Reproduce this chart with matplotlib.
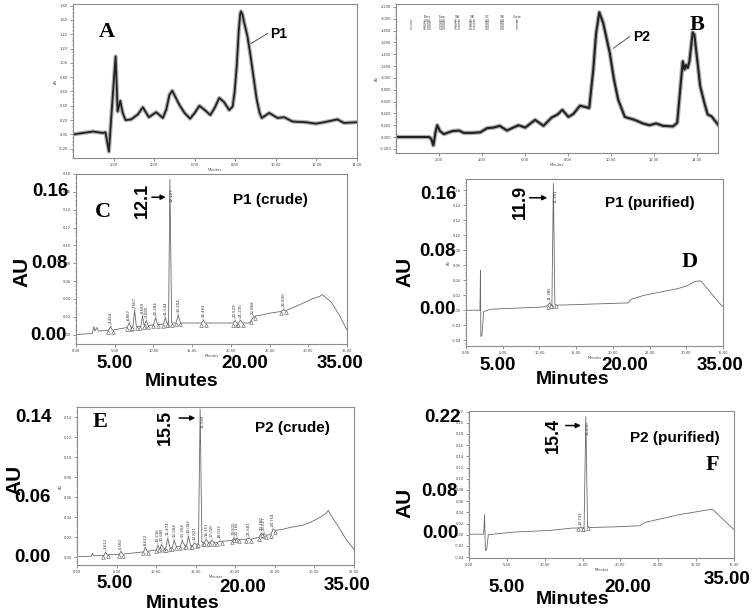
import numpy as np
import matplotlib
matplotlib.use("Agg")
import matplotlib.pyplot as plt
from matplotlib.ticker import MultipleLocator, FormatStrFormatter

W, H = 756, 614

# ---------------- data ----------------
# Panel A : preparative chromatogram (P1)
a_time = [0.0, 0.74, 0.98, 1.48, 1.6, 1.77, 1.95, 2.10, 2.2, 2.33, 2.45, 2.59, 2.87, 3.2, 3.44,
          3.74, 4.1, 4.43, 4.6, 4.75, 4.89, 5.0, 5.25, 5.5, 5.77, 6.0, 6.23, 6.5, 6.77, 7.0, 7.21,
          7.45, 7.70, 7.87, 7.97, 8.07, 8.17, 8.24, 8.28, 8.35, 8.45, 8.6, 8.75, 8.9, 9.05, 9.2,
          9.31, 9.67, 10.08, 10.41, 10.82, 11.48, 11.97, 12.38, 13.03, 13.36, 14.0]
a_val = [0.0, 0.03, 0.04, 0.02, 0.03, -0.24, 0.5, 1.09, 0.32, 0.47, 0.3, 0.20, 0.21, 0.28, 0.38,
         0.24, 0.31, 0.23, 0.35, 0.55, 0.61, 0.55, 0.41, 0.30, 0.22, 0.30, 0.40, 0.34, 0.27, 0.38, 0.51,
         0.45, 0.34, 0.39, 0.60, 0.95, 1.45, 1.68, 1.72, 1.68, 1.55, 1.37, 1.10, 0.80, 0.50, 0.30,
         0.23, 0.30, 0.23, 0.24, 0.18, 0.17, 0.15, 0.17, 0.21, 0.16, 0.17]

# Panel B : preparative chromatogram (P2)
b_time = [0.0, 1.54, 1.64, 1.74, 1.85, 1.92, 2.05, 2.23, 2.62, 2.93, 3.16, 3.55, 3.93, 4.24, 4.55,
          4.83, 5.17, 5.40, 5.71, 6.02, 6.48, 6.87, 7.25, 7.52, 7.75, 8.03, 8.26, 8.57, 8.80, 9.0,
          9.19, 9.32, 9.47, 9.65, 9.96, 10.15, 10.35, 10.66, 11.12, 11.5, 11.81, 12.12, 12.43, 12.9,
          13.1, 13.28, 13.36, 13.44, 13.51, 13.59, 13.67, 13.82, 13.9, 14.06, 14.17, 14.37, 14.52,
          14.7, 15.0]
b_val = [0.0, 0.0, -0.03, -0.14, 0.10, 0.20, 0.10, 0.05, 0.10, 0.11, 0.07, 0.07, 0.08, 0.15, 0.16,
         0.19, 0.11, 0.15, 0.20, 0.16, 0.29, 0.19, 0.33, 0.38, 0.46, 0.34, 0.39, 0.53, 0.51, 0.49,
         1.14, 1.75, 2.11, 1.93, 1.42, 0.98, 0.63, 0.34, 0.29, 0.23, 0.20, 0.23, 0.19, 0.18,
         0.24, 0.97, 1.28, 1.14, 1.22, 1.17, 1.28, 1.77, 1.73, 1.22, 0.86, 0.57, 0.38,
         0.35, 0.21]

# Gradient table printed in panel B
b_table_head = ["Time", "Flow", "%A", "%B", "%C", "%D", "Curve"]
b_table_rows = [["0.00", "5.00", "75.0", "25.0", "0.0", "0.0", "6"],
                ["11.00", "5.00", "71.0", "29.0", "0.0", "0.0", "6"],
                ["14.00", "5.00", "40.0", "60.0", "0.0", "0.0", "6"],
                ["16.00", "5.00", "75.0", "25.0", "0.0", "0.0", "6"]]

# Panel C : P1 crude (analytical HPLC)
c_time = [0.0, 1.5, 2.1, 2.3, 2.45, 2.7, 2.9, 4.2, 4.46, 4.7, 6.6, 6.87, 7.1, 7.35, 7.57, 7.8,
          8.35, 8.59, 8.8, 9.08, 9.35, 10.0, 10.28, 10.55, 11.3, 11.54, 11.8, 11.95, 12.13, 12.35,
          12.9, 13.2, 13.5, 16.2, 16.46, 16.7, 20.3, 20.53, 20.8, 21.0, 21.24, 21.5, 22.4, 22.87,
          23.2, 24.0, 25.0, 26.5, 26.8, 27.1, 29.0, 30.5, 31.5, 31.8, 32.2, 33.0, 34.0, 35.0]
c_val = [0.0, 0.001, 0.001, 0.009, 0.004, 0.008, 0.004, 0.005, 0.009, 0.005, 0.008, 0.013, 0.008,
         0.009, 0.027, 0.009, 0.009, 0.021, 0.010, 0.016, 0.010, 0.011, 0.019, 0.011, 0.012, 0.019,
         0.012, 0.013, 0.174, 0.013, 0.013, 0.022, 0.013, 0.013, 0.016, 0.013, 0.013, 0.016, 0.013,
         0.013, 0.016, 0.013, 0.013, 0.019, 0.021, 0.022, 0.024, 0.026, 0.028, 0.027, 0.034, 0.040,
         0.043, 0.045, 0.042, 0.036, 0.022, 0.005]
c_peaks = [4.464, 6.867, 7.567, 8.589, 9.080, 10.284, 11.544, 12.127, 13.204, 16.463, 20.529,
           21.235, 22.868, 26.800]

# Panel D : P1 purified
d_time = [0.0, 1.90, 1.97, 2.02, 2.17, 2.4, 3.3, 10.77, 11.0, 11.2, 11.385, 11.55, 11.7, 11.9,
          12.1, 12.35, 22.1, 22.5, 24.3, 28.9, 30.2, 31.1, 31.6, 32.0, 32.5, 34.75, 35.0]
d_val = [0.0, 0.0, 0.053, -0.035, -0.034, -0.002, 0.0013, 0.0045, 0.006, 0.007, 0.0098, 0.007,
         0.008, 0.169, 0.008, 0.0067, 0.0098, 0.0147, 0.020, 0.029, 0.033, 0.038, 0.039, 0.039,
         0.033, 0.0067, 0.005]
d_peaks = [11.385, 11.901]

# Panel E : P2 crude
e_time = [0.0, 1.8, 1.94, 2.1, 3.4, 3.61, 3.85, 5.3, 5.56, 5.8, 8.4, 8.63, 8.9, 10.0, 10.24, 10.45,
          10.69, 10.9, 11.2, 11.47, 11.75, 12.05, 12.28, 12.55, 13.05, 13.3, 13.6, 13.85, 14.08,
          14.35, 14.6, 14.82, 15.1, 15.35, 15.56, 15.78, 16.1, 16.31, 16.6, 16.8, 17.03, 17.3, 17.8,
          18.03, 18.3, 19.6, 19.82, 19.95, 20.17, 20.4, 21.4, 21.68, 21.95, 23.0, 23.28, 23.45,
          23.62, 23.9, 24.5, 24.75, 25.0, 26.0, 27.0, 28.5, 29.5, 30.5, 31.5, 31.75, 32.0, 33.0,
          34.0, 35.0]
e_val = [0.0007, 0.0012, 0.004, 0.0015, 0.002, 0.005, 0.0025, 0.003, 0.0058, 0.0032, 0.0055, 0.0096,
         0.006, 0.0075, 0.012, 0.008, 0.013, 0.009, 0.009, 0.019, 0.010, 0.010, 0.017, 0.011, 0.011,
         0.017, 0.012, 0.012, 0.021, 0.012, 0.012, 0.014, 0.013, 0.014, 0.148, 0.015, 0.015, 0.018,
         0.015, 0.015, 0.017, 0.015, 0.015, 0.016, 0.016, 0.017, 0.019, 0.018, 0.019, 0.018, 0.018,
         0.019, 0.018, 0.020, 0.024, 0.022, 0.024, 0.022, 0.023, 0.028, 0.027, 0.028, 0.030, 0.032,
         0.035, 0.039, 0.044, 0.047, 0.043, 0.031, 0.018, 0.008]
e_peaks = [3.612, 5.560, 8.633, 10.236, 10.685, 11.474, 12.284, 13.304, 14.083, 14.821, 15.560,
           16.313, 17.025, 18.032, 19.815, 20.166, 21.681, 23.280, 23.617, 24.754]

# Panel F : P2 purified
f_time = [0.0, 1.94, 2.06, 2.16, 2.33, 2.55, 5.8, 10.66, 13.7, 14.5, 14.733, 14.95, 15.2, 15.43,
          15.66, 16.08, 19.0, 22.55, 23.2, 27.8, 31.8, 32.2, 35.0]
f_val = [0.001, 0.001, 0.036, -0.028, -0.027, 0.0, 0.0047, 0.0077, 0.012, 0.012, 0.013, 0.012,
         0.013, 0.211, 0.014, 0.013, 0.014, 0.016, 0.022, 0.036, 0.045, 0.045, 0.009]
f_peaks = [14.733, 15.430]

# ---------------- figure ----------------
fig = plt.figure(figsize=(W / 100, H / 100), dpi=100)
fig.patch.set_facecolor("white")

SANS = "Liberation Sans"
SERIF = "Liberation Serif"
FRAME = "#8c8c8c"
TRACE = "#6a6a6a"


def px_axes(l, t, r, b):
    return fig.add_axes([l / W, 1 - b / H, (r - l) / W, (b - t) / H])


def ftext(x, y, s, size, rot=0, family=SANS, weight="bold"):
    fig.text(x / W, 1 - y / H, s, ha="center", va="center", rotation=rot,
             fontsize=size, family=family, weight=weight, color="black")


def style(ax, xmaj, xmin, ymaj, ymin, xfmt, yfmt, ylab="AU"):
    for s in ax.spines.values():
        s.set_color(FRAME)
        s.set_linewidth(0.8)
    ax.xaxis.set_major_locator(MultipleLocator(xmaj))
    ax.xaxis.set_minor_locator(MultipleLocator(xmin))
    ax.yaxis.set_major_locator(MultipleLocator(ymaj))
    ax.yaxis.set_minor_locator(MultipleLocator(ymin))
    ax.xaxis.set_major_formatter(FormatStrFormatter(xfmt))
    ax.yaxis.set_major_formatter(FormatStrFormatter(yfmt))
    ax.tick_params(which="major", length=2, width=0.4, labelsize=2.6, colors="#444444", pad=1.5)
    ax.tick_params(which="minor", length=1, width=0.3, colors="#666666")
    ax.set_xlabel("Minutes", fontsize=2.6, labelpad=0.5, color="#444444")
    ax.set_ylabel(ylab, fontsize=2.6, labelpad=0.5, color="#444444")


def peak_marks(ax, t, v, peaks, skip_main=None, off=0.002):
    t = np.asarray(t)
    v = np.asarray(v)
    for p in peaks:
        top = np.interp(p, t, v)
        main = skip_main is not None and abs(p - skip_main) < 1e-6
        w = 0.32 if main else 0.28
        bl = np.interp(p - w, t, v)
        br = np.interp(p + w, t, v)
        ax.plot([p - w, p + w], [bl - off * 0.6, br - off * 0.6], ls="none", marker="^",
                ms=2.6, mfc="white", mec="#555555", mew=0.4)
        if main:
            ax.text(p + 0.25, top * 0.96, f"{p:.3f}", rotation=90, fontsize=2.8,
                    ha="center", va="top", color="#333333")
        else:
            ax.plot([p, p], [top, top + off], color="#555555", lw=0.3)
            ax.text(p, top + off * 1.2, f"{p:.3f}", rotation=90, fontsize=2.8,
                    ha="center", va="bottom", color="#333333")


# ---- Panel A ----
axA = px_axes(73, 4, 357, 158)
axA.plot(a_time, a_val, color="#b0b0b0", lw=3.0, solid_joinstyle="round")
axA.plot(a_time, a_val, color="#222222", lw=1.3, solid_joinstyle="round")
axA.set_xlim(0, 14)
axA.set_ylim(-0.33, 1.823)
style(axA, 2, 0.4, 0.2, 0.05, "%.2f", "%.2f")
axA.set_xticks([2, 4, 6, 8, 10, 12, 14])
axA.plot([8.77, 9.59], [1.27, 1.41], color="#555555", lw=0.7)
axA.text(9.72, 1.40, "P1", fontsize=10, family=SANS, weight="bold", va="center")
axA.text(0.12, 0.82, "A", transform=axA.transAxes, fontsize=16, family=SERIF,
         weight="bold", va="center", ha="center")

# ---- Panel B ----
axB = px_axes(396, 4, 718, 153)
axB.plot(b_time, b_val, color="#b0b0b0", lw=3.2, solid_joinstyle="round")
axB.plot(b_time, b_val, color="#222222", lw=1.5, solid_joinstyle="round")
axB.set_xlim(0, 15)
axB.set_ylim(-0.27, 2.25)
style(axB, 2, 0.4, 0.2, 0.05, "%.2f", "%.3f")
axB.set_xticks([2, 4, 6, 8, 10, 12, 14])
axB.plot([10.12, 10.89], [1.50, 1.70], color="#555555", lw=0.7)
axB.text(11.05, 1.69, "P2", fontsize=10, family=SANS, weight="bold", va="center")
axB.text(0.935, 0.86, "B", transform=axB.transAxes, fontsize=16, family=SERIF,
         weight="bold", va="center", ha="center")
cols_x = [427, 442, 457, 472, 487, 502, 517]
for cx, hd in zip(cols_x, b_table_head):
    fig.text(cx / W, 1 - 17 / H, hd, fontsize=2.2, ha="center", va="center", color="#333333")
for ri, row in enumerate(b_table_rows):
    yy = 20.7 + ri * 2.7
    fig.text(411 / W, 1 - yy / H, str(ri + 1), fontsize=2.2, ha="center", va="center", color="#333333")
    for cx, cell in zip(cols_x, row):
        fig.text(cx / W, 1 - yy / H, cell, fontsize=2.2, ha="center", va="center", color="#333333")

# ---- Panel C ----
axC = px_axes(76, 174, 347, 344)
axC.plot(c_time, c_val, color=TRACE, lw=0.6)
axC.set_xlim(0, 35)
axC.set_ylim(-0.0105, 0.18)
style(axC, 5, 1, 0.02, 0.005, "%.2f", "%.2f")
peak_marks(axC, c_time, c_val, c_peaks, skip_main=12.127, off=0.003)
axC.annotate("", xy=(11.95, 0.154), xytext=(9.44, 0.154),
             arrowprops=dict(arrowstyle="-|>", color="black", lw=1.1, mutation_scale=7))

# ---- Panel D ----
axD = px_axes(466, 179, 723, 346)
axD.plot(d_time, d_val, color=TRACE, lw=0.6)
axD.set_xlim(0, 35)
axD.set_ylim(-0.0477, 0.175)
style(axD, 5, 1, 0.02, 0.005, "%.2f", "%.2f")
peak_marks(axD, d_time, d_val, d_peaks, skip_main=11.901, off=0.003)
axD.annotate("", xy=(11.45, 0.150), xytext=(8.28, 0.150),
             arrowprops=dict(arrowstyle="-|>", color="black", lw=1.1, mutation_scale=7))

# ---- Panel E ----
axE = px_axes(77, 407, 354, 565)
axE.plot(e_time, e_val, color=TRACE, lw=0.6)
axE.set_xlim(0, 35)
axE.set_ylim(-0.0076, 0.150)
style(axE, 5, 1, 0.02, 0.005, "%.2f", "%.2f")
peak_marks(axE, e_time, e_val, e_peaks, skip_main=15.560, off=0.0025)
axE.annotate("", xy=(15.3, 0.139), xytext=(12.57, 0.139),
             arrowprops=dict(arrowstyle="-|>", color="black", lw=1.1, mutation_scale=7))

# ---- Panel F ----
axF = px_axes(469, 411, 734, 558)
axF.plot(f_time, f_val, color=TRACE, lw=0.6)
axF.set_xlim(0, 35)
axF.set_ylim(-0.0415, 0.221)
style(axF, 5, 1, 0.02, 0.005, "%.2f", "%.2f")
peak_marks(axF, f_time, f_val, f_peaks, skip_main=15.430, off=0.004)
axF.annotate("", xy=(15.15, 0.195), xytext=(12.4, 0.195),
             arrowprops=dict(arrowstyle="-|>", color="black", lw=1.1, mutation_scale=7))

# ---------------- big overlay labels ----------------
overlay = [
    # panel C
    (50, 192, "0.16", 13.5, 0), (50, 264, "0.08", 13.5, 0), (48, 336, "0.00", 13.5, 0),
    (22, 272, "AU", 15, 90), (115, 364, "5.00", 13.5, 0), (245, 364, "20.00", 13.5, 0),
    (340, 364, "35.00", 13.5, 0), (182, 381, "Minutes", 14, 0), (142, 200, "12.1", 13, 90),
    (270, 200, "P1 (crude)", 11, 0),
    # panel D
    (438, 195, "0.16", 13.5, 0), (437, 251, "0.08", 13.5, 0), (437, 310, "0.00", 13.5, 0),
    (405, 272, "AU", 15, 90), (498, 365, "5.00", 13.5, 0), (625, 365, "20.00", 13.5, 0),
    (720, 365, "35.00", 13.5, 0), (573, 380, "Minutes", 14, 0), (520, 202, "11.9", 13, 90),
    (650, 203, "P1 (purified)", 11, 0),
    # panel E
    (33, 418, "0.14", 13.5, 0), (32, 497, "0.06", 13.5, 0), (32, 558, "0.00", 13.5, 0),
    (15, 480, "AU", 15, 90), (115, 583, "5.00", 13.5, 0), (243, 588, "20.00", 13.5, 0),
    (347, 585, "35.00", 13.5, 0), (183, 604, "Minutes", 14, 0), (165, 427, "15.5", 13, 90),
    (292, 428, "P2 (crude)", 11, 0),
    # panel F
    (442, 418, "0.22", 13.5, 0), (440, 492, "0.08", 13.5, 0), (440, 533, "0.00", 13.5, 0),
    (405, 503, "AU", 15, 90), (507, 587, "5.00", 13.5, 0), (628, 587, "20.00", 13.5, 0),
    (727, 580, "35.00", 13.5, 0), (573, 600, "Minutes", 14, 0), (553, 435, "15.4", 13, 90),
    (675, 438, "P2 (purified)", 11, 0),
]
for x, y, s, size, rot in overlay:
    ftext(x, y, s, size, rot)

for x, y, s in [(103, 212, "C"), (690, 262, "D"), (100, 422, "E"), (712, 465, "F")]:
    ftext(x, y, s, 16, family=SERIF)

fig.savefig("out.png", dpi=100, facecolor="white")
